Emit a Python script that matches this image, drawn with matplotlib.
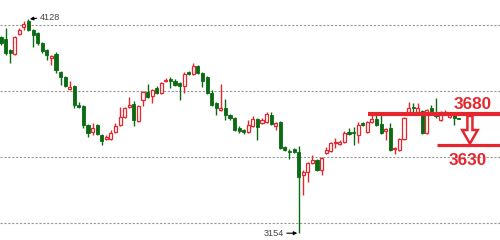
import numpy as np
import matplotlib
matplotlib.use("Agg")
import matplotlib.pyplot as plt
from matplotlib.patches import FancyArrow

# daily OHLC
opens = [4045, 4036, 3986, 3968, 4059, 4091, 4118, 4077, 4064, 4018,
         3986, 3950, 3968, 3886, 3864, 3809, 3823, 3736, 3732, 3645,
         3614, 3645, 3600, 3582, 3582, 3614, 3645, 3682, 3727, 3741,
         3664, 3759, 3795, 3777, 3814, 3791, 3848, 3855, 3845, 3836,
         3823, 3886, 3877, 3914, 3882, 3864, 3791, 3745, 3714, 3723,
         3691, 3677, 3632, 3623, 3614, 3641, 3673, 3655, 3659, 3691,
         3641, 3659, 3545, 3527, 3536, 3523, 3418, 3432, 3473, 3486,
         3441, 3518, 3527, 3566, 3559, 3568, 3614, 3614, 3600, 3655,
         3614, 3659, 3673, 3650, 3618, 3632, 3536, 3532, 3582, 3705,
         3727, 3705, 3709, 3609, 3723, 3700, 3668, 3695, 3682, 3691,
         3677]
highs = [4050, 4086, 3990, 4050, 4086, 4118, 4128, 4080, 4068, 4022,
         3990, 3964, 3977, 3890, 3868, 3845, 3827, 3750, 3736, 3650,
         3655, 3650, 3605, 3600, 3623, 3655, 3727, 3727, 3773, 3755,
         3736, 3800, 3832, 3810, 3823, 3840, 3859, 3864, 3855, 3841,
         3886, 3890, 3927, 3918, 3886, 3868, 3805, 3750, 3832, 3764,
         3695, 3680, 3641, 3627, 3668, 3686, 3677, 3677, 3705, 3705,
         3659, 3664, 3550, 3536, 3541, 3550, 3441, 3478, 3509, 3491,
         3500, 3545, 3568, 3586, 3577, 3618, 3632, 3636, 3659, 3659,
         3664, 3700, 3691, 3691, 3632, 3655, 3545, 3586, 3682, 3750,
         3745, 3745, 3714, 3718, 3736, 3768, 3709, 3714, 3700, 3695,
         3677]
lows = [4010, 3964, 3927, 3964, 4055, 4077, 4073, 4000, 4010, 3973,
        3941, 3918, 3882, 3827, 3818, 3805, 3723, 3723, 3632, 3591,
        3600, 3600, 3555, 3577, 3577, 3609, 3641, 3677, 3723, 3641,
        3659, 3732, 3768, 3745, 3786, 3786, 3841, 3814, 3823, 3759,
        3791, 3873, 3873, 3877, 3818, 3786, 3732, 3691, 3710, 3668,
        3670, 3618, 3609, 3605, 3609, 3636, 3577, 3650, 3655, 3645,
        3623, 3536, 3527, 3491, 3518, 3154, 3327, 3386, 3468, 3436,
        3418, 3514, 3523, 3541, 3555, 3564, 3600, 3555, 3564, 3641,
        3609, 3655, 3641, 3605, 3577, 3527, 3514, 3527, 3577, 3700,
        3705, 3700, 3605, 3605, 3700, 3677, 3664, 3691, 3677, 3645,
        3673]
closes = [4018, 3973, 3973, 4045, 4077, 4105, 4077, 4055, 4018, 3982,
          3964, 3959, 3895, 3864, 3823, 3818, 3736, 3727, 3645, 3609,
          3632, 3605, 3573, 3591, 3609, 3641, 3682, 3723, 3736, 3668,
          3732, 3795, 3773, 3805, 3791, 3836, 3850, 3845, 3827, 3823,
          3877, 3877, 3914, 3882, 3845, 3791, 3736, 3723, 3723, 3691,
          3677, 3623, 3618, 3614, 3645, 3673, 3636, 3668, 3695, 3650,
          3655, 3541, 3532, 3523, 3523, 3409, 3432, 3473, 3486, 3441,
          3495, 3532, 3564, 3568, 3568, 3609, 3605, 3609, 3645, 3645,
          3659, 3673, 3645, 3609, 3627, 3532, 3541, 3582, 3677, 3723,
          3723, 3723, 3609, 3714, 3705, 3686, 3705, 3705, 3691, 3677,
          3673]

top_label = "4128"
bottom_label = "3154"
resist_level = 3695
support_level = 3557
resist_text = "3680"
support_text = "3630"
grid_levels = [4100, 3800, 3500, 3200]

red = "#e5262e"
green = "#0a6b12"

o = np.array(opens); h = np.array(highs); l = np.array(lows); c = np.array(closes)
x = np.arange(len(o))
up = c >= o

fig = plt.figure(figsize=(5, 2.4), dpi=100)
ax = fig.add_axes([0, 0, 1, 1])
ax.set_xlim(-0.22, 108.97)
ax.set_ylim(3123, 4214)
ax.axis("off")

for g in grid_levels:
    ax.axhline(g, color="#999999", lw=0.8, ls=(0, (2, 1.5)), zorder=0)

# wicks
ax.vlines(x[up], l[up], h[up], color=red, lw=1, zorder=1)
ax.vlines(x[~up], l[~up], h[~up], color=green, lw=1, zorder=1)

# bodies
w = 0.68
bh = np.maximum(np.abs(c - o), 3)
bot = np.minimum(o, c)
ax.bar(x[up], bh[up], w, bottom=bot[up], facecolor="white", edgecolor=red, lw=0.9, zorder=2)
ax.bar(x[~up], bh[~up], w, bottom=bot[~up], facecolor=green, edgecolor=green, lw=0.6, zorder=2)

# high / low labels
i_hi = int(np.argmax(h)); i_lo = int(np.argmin(l))
lab_font = dict(fontsize=6.6, color="#444444", va="center", ha="left", family="Liberation Sans")
ax.annotate(top_label, xy=(i_hi + 0.3, h[i_hi]), xytext=(i_hi + 2.4, h[i_hi] + 8),
            arrowprops=dict(arrowstyle="-|>", color="black", lw=0.8, mutation_scale=5,
                            shrinkA=0, shrinkB=0), **lab_font)
ax.annotate(bottom_label, xy=(i_lo - 0.3, l[i_lo]), xytext=(i_lo - 7.6, l[i_lo]),
            arrowprops=dict(arrowstyle="-|>", color="black", lw=0.8, mutation_scale=5,
                            shrinkA=0, shrinkB=0), **lab_font)

# hand drawn target
ax.plot([80.1, 109], [resist_level, resist_level], color=red, lw=3, zorder=4, solid_capstyle="butt")
ax.plot([95.2, 109], [support_level, support_level], color=red, lw=2.3, zorder=4, solid_capstyle="butt")
ax.add_patch(FancyArrow(102.4, resist_level - 8, 0, -(resist_level - support_level - 12),
                        width=1.1, head_width=3.4, head_length=62, length_includes_head=True,
                        facecolor="white", edgecolor=red, lw=1.8, zorder=5))
big_font = dict(color=red, fontsize=12.3, fontweight="bold", family="Liberation Sans",
                ha="center", va="center", zorder=6)
ax.text(103.0, 3741, resist_text, **big_font)
ax.text(101.9, 3484, support_text, **big_font)

fig.savefig("out.png", dpi=100)
